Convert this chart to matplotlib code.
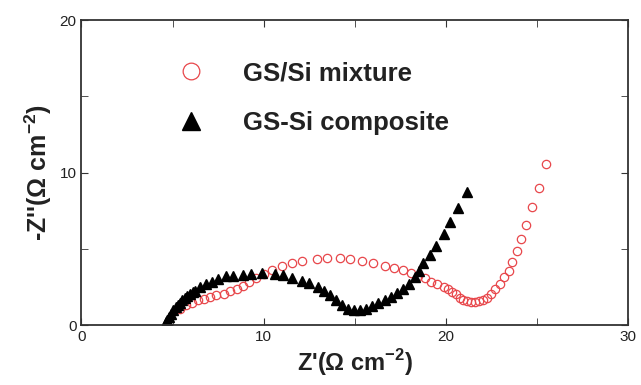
import numpy as np
import matplotlib
matplotlib.use("Agg")
import matplotlib.pyplot as plt
from matplotlib.ticker import MultipleLocator

plt.rcParams['font.family'] = ['Liberation Sans', 'DejaVu Sans']
plt.rcParams['mathtext.fontset'] = 'custom'
plt.rcParams['mathtext.rm'] = 'Liberation Sans:bold'
plt.rcParams['mathtext.bf'] = 'Liberation Sans:bold'

# GS-Si composite (black triangles)
comp_x = [4.65, 4.72, 4.82, 4.94, 5.05, 5.17, 5.28, 5.39, 5.52, 5.66, 5.8, 5.95,
          6.1, 6.24, 6.5, 6.84, 7.17, 7.5, 7.95,
          8.33, 8.84, 9.29, 9.89, 10.62, 11.07, 11.58, 12.12, 12.47, 12.96, 13.3,
          13.63, 13.97, 14.3, 14.63, 14.97, 15.3, 15.63, 15.97, 16.3, 16.64, 16.97,
          17.31, 17.64, 17.97, 18.31, 18.53, 18.75, 19.13, 19.47, 19.87, 20.2,
          20.69, 21.16]
comp_y = [0.2, 0.33, 0.55, 0.76, 0.98, 1.2, 1.34, 1.48, 1.63, 1.78, 1.93, 2.07,
          2.18, 2.28, 2.5, 2.72, 2.87, 3.04, 3.22,
          3.22, 3.3, 3.35, 3.41, 3.33, 3.3, 3.09, 2.93, 2.76, 2.5, 2.22,
          1.96, 1.63, 1.35, 1.09, 0.98, 0.98, 1.04, 1.26, 1.48, 1.63, 1.85,
          2.11, 2.39, 2.72, 3.15, 3.59, 4.07, 4.61, 5.22, 5.96, 6.74,
          7.67, 8.74]

# GS/Si mixture (red open circles)
mix_x = [5.39, 5.72, 6.06, 6.39, 6.73, 7.06, 7.4, 7.8, 8.17, 8.51, 8.84, 9.18,
         9.58, 10.02, 10.47, 11.0, 11.58, 12.12, 12.92, 13.45, 14.19, 14.74,
         15.41, 15.99, 16.64, 17.15, 17.64, 18.09, 18.49, 18.86, 19.2, 19.53,
         19.87, 20.13, 20.36, 20.58, 20.76, 20.94, 21.16, 21.38, 21.6, 21.83,
         22.05, 22.27, 22.5, 22.72, 22.95, 23.17, 23.44, 23.62, 23.88, 24.1,
         24.37, 24.73, 25.1, 25.48]
mix_y = [1.09, 1.3, 1.48, 1.63, 1.74, 1.83, 1.96, 2.07, 2.22, 2.39, 2.57, 2.87,
         3.09, 3.39, 3.65, 3.91, 4.09, 4.22, 4.33, 4.43, 4.43, 4.33,
         4.22, 4.07, 3.91, 3.78, 3.65, 3.43, 3.26, 3.09, 2.87, 2.72,
         2.5, 2.35, 2.17, 2.02, 1.8, 1.67, 1.59, 1.54, 1.54, 1.59,
         1.67, 1.8, 2.02, 2.35, 2.72, 3.15, 3.59, 4.17, 4.85, 5.65,
         6.59, 7.72, 9.02, 10.59]

fig = plt.figure(figsize=(6.41, 3.85), dpi=100)
ax = fig.add_axes([0.127, 0.155, 0.853, 0.793])

ax.plot(mix_x, mix_y, linestyle='none', marker='o', markersize=6,
        markerfacecolor='none', markeredgecolor='#e8474b', markeredgewidth=0.9,
        label='GS/Si mixture')
ax.plot(comp_x, comp_y, linestyle='none', marker='^', markersize=6.5,
        color='black', label='GS-Si composite')

ax.set_xlim(0, 30)
ax.set_ylim(0, 20)
ax.xaxis.set_major_locator(MultipleLocator(10))
ax.xaxis.set_minor_locator(MultipleLocator(5))
ax.yaxis.set_major_locator(MultipleLocator(10))
ax.yaxis.set_minor_locator(MultipleLocator(5))
ax.tick_params(which='both', direction='in', top=True, right=True,
               labelsize=11, colors='#333333', labelcolor='#222222')
ax.tick_params(which='major', length=5)
ax.tick_params(which='minor', length=5)
for s in ax.spines.values():
    s.set_linewidth(1.3)
    s.set_color('#333333')

ax.set_xlabel("Z'($\\Omega$ cm$^{-2}$)", fontsize=17, fontweight='bold',
              color='#222222', labelpad=2)
ax.set_ylabel("-Z''($\\Omega$ cm$^{-2}$)", fontsize=18, fontweight='bold',
              color='#222222', labelpad=4)

leg = ax.legend(loc='upper left', bbox_to_anchor=(0.135, 0.94), frameon=False,
                markerscale=2.0, handlelength=1.0, handletextpad=1.5,
                labelspacing=1.0, prop={'size': 18.5, 'weight': 'bold'})
for t in leg.get_texts():
    t.set_color('#222222')

fig.savefig('out.png', dpi=100)
